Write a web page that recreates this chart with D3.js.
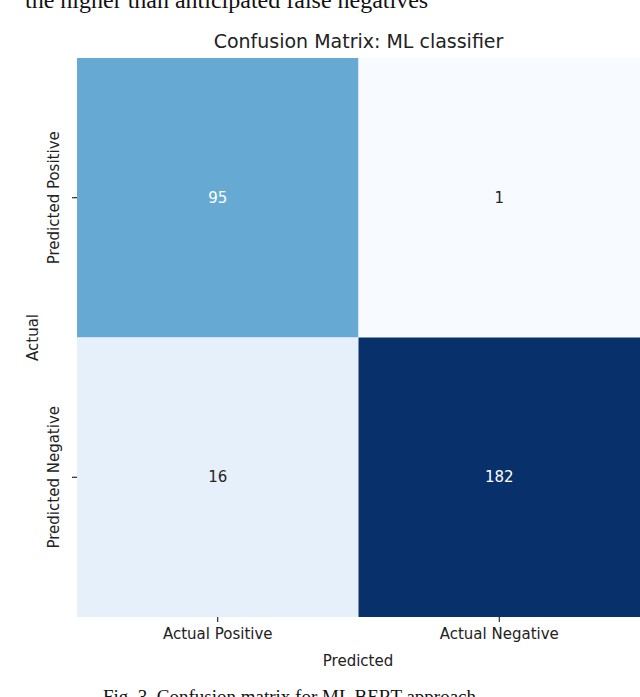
<!DOCTYPE html>
<html><head><meta charset="utf-8">
<script src="https://cdn.jsdelivr.net/npm/d3@7"></script>
<style>body{margin:0;background:#fff}</style>
</head><body>
<div id="chart"></div>
<script>
const rowLabels = ["Predicted Positive", "Predicted Negative"];
const colLabels = ["Actual Positive", "Actual Negative"];
const counts = [[95, 1], [16, 182]];

const W = 640, H = 697;
const m = {left: 77, right: 640, top: 58, bottom: 617};

const svg = d3.select("#chart").append("svg")
    .attr("width", W).attr("height", H)
    .style("font-family", "DejaVu Sans");

const x = d3.scaleBand().domain(colLabels).range([m.left, m.right]);
const y = d3.scaleBand().domain(rowLabels).range([m.top, m.bottom]);
const color = d3.scaleSequential(d3.interpolateBlues).domain([1, 182]);

const cells = [];
rowLabels.forEach((r, i) => colLabels.forEach((c, j) => cells.push({r, c, v: counts[i][j]})));

svg.selectAll("rect").data(cells).join("rect")
    .attr("x", d => x(d.c)).attr("y", d => y(d.r))
    .attr("width", x.bandwidth()).attr("height", y.bandwidth())
    .attr("fill", d => color(d.v));

svg.selectAll("text.val").data(cells).join("text")
    .attr("class", "val")
    .attr("x", d => x(d.c) + x.bandwidth() / 2)
    .attr("y", d => y(d.r) + y.bandwidth() / 2)
    .attr("text-anchor", "middle").attr("dominant-baseline", "central")
    .attr("font-size", 15)
    .attr("fill", d => d.v > 60 ? "#fff" : "#262626")
    .text(d => d.v);

const xAxis = svg.append("g").attr("transform", `translate(0,${m.bottom})`)
    .call(d3.axisBottom(x).tickSize(5).tickPadding(6));
const yAxis = svg.append("g").attr("transform", `translate(${m.left},0)`)
    .call(d3.axisLeft(y).tickSize(5).tickPadding(6));
[xAxis, yAxis].forEach(a => {
  a.select(".domain").remove();
  a.selectAll("text").attr("font-size", 15).attr("font-family", "DejaVu Sans").attr("fill", "#222");
});
yAxis.selectAll(".tick text")
    .attr("transform", "rotate(-90)")
    .attr("x", 0).attr("y", -18)
    .attr("text-anchor", "middle").attr("dy", "0");

svg.append("text").attr("x", (m.left + m.right) / 2).attr("y", 48)
    .attr("text-anchor", "middle").attr("font-size", 19).attr("fill", "#222")
    .text("Confusion Matrix: ML classifier");
svg.append("text").attr("x", 358).attr("y", 666)
    .attr("text-anchor", "middle").attr("font-size", 15).attr("fill", "#222")
    .text("Predicted");
svg.append("text").attr("transform", `translate(38,${(m.top + m.bottom) / 2}) rotate(-90)`)
    .attr("text-anchor", "middle").attr("font-size", 15).attr("fill", "#222")
    .text("Actual");

svg.append("text").attr("x", 25).attr("y", 8)
    .attr("font-family", "Liberation Serif").attr("font-size", 24).attr("fill", "#111")
    .text("the higher than anticipated false negatives");
svg.append("text").attr("x", 103).attr("y", 703)
    .attr("font-family", "Liberation Serif").attr("font-size", 19).attr("fill", "#111")
    .text("Fig. 3. Confusion matrix for ML BERT approach");
</script>
</body></html>
